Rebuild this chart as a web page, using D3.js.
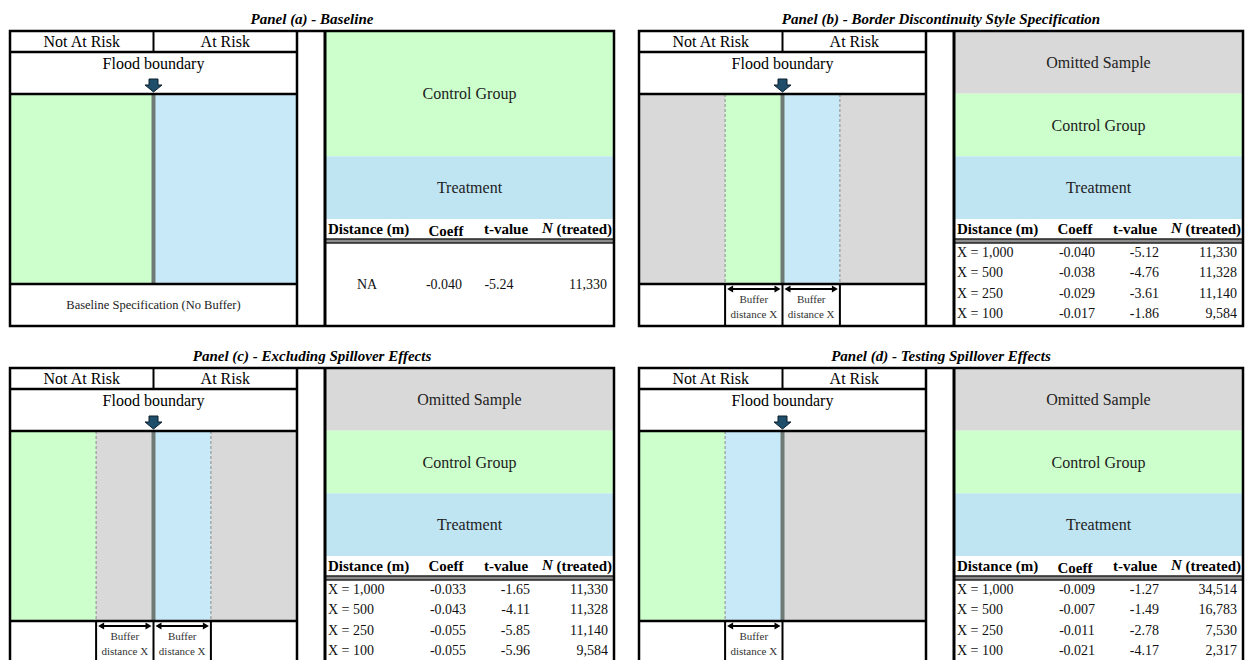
<!DOCTYPE html>
<html>
<head>
<meta charset="utf-8">
<script src="https://cdn.jsdelivr.net/npm/d3@7"></script>
<style>
  html, body { margin: 0; padding: 0; background: #fff; }
  svg { display: block; }
  text { font-family: "Palatino Linotype", "Book Antiqua", Palatino, "Liberation Serif", serif; }
</style>
</head>
<body>
<svg id="chart" width="1247" height="660"></svg>
<script>
// ---- Labels ----
const panelTitles = [
  "Panel (a) - Baseline",
  "Panel (b) - Border Discontinuity Style Specification",
  "Panel (c) - Excluding Spillover Effects",
  "Panel (d) - Testing Spillover Effects"
];
const sideLabels = ["Not At Risk", "At Risk"];
const groupLabels = { omit: "Omitted Sample", control: "Control Group", treat: "Treatment" };
const columnHeaders = ["Distance (m)", "Coeff", "t-value", "N (treated)"];
const bufferDistances = ["X = 1,000", "X = 500", "X = 250", "X = 100"];

// ---- Estimates ----
const baselineDistance = ["NA"];
const baselineCoeff = [-0.040];
const baselineT = [-5.24];
const baselineN = [11330];

const borderCoeff = [-0.040, -0.038, -0.029, -0.017];
const borderT = [-5.12, -4.76, -3.61, -1.86];
const borderN = [11330, 11328, 11140, 9584];

const excludeCoeff = [-0.033, -0.043, -0.055, -0.055];
const excludeT = [-1.65, -4.11, -5.85, -5.96];
const excludeN = [11330, 11328, 11140, 9584];

const spillCoeff = [-0.009, -0.007, -0.011, -0.021];
const spillT = [-1.27, -1.49, -2.78, -4.17];
const spillN = [34514, 16783, 7530, 2317];

// ---- Formatting (plain hyphen minus) ----
const loc = d3.formatLocale({ decimal: ".", thousands: ",", grouping: [3], currency: ["$", ""], minus: "-" });
const fmtCoeff = loc.format(".3f");
const fmtT = loc.format(".2f");
const fmtN = loc.format(",d");

function rowsOf(dist, coeff, t, n) {
  return dist.map((d, i) => ({ dist: d, coeff: coeff[i], t: t[i], n: n[i] }));
}

// Map strips: positions in buffer units around the flood boundary (0)
const panels = [
  {
    title: panelTitles[0], origin: [10, 31], single: true, coeffDy: 2,
    zones: [[-1, 0, "control"], [0, 1, "treat"]],
    buffers: [],
    groups: [["control", 0, 2], ["treat", 2, 3]],
    rows: rowsOf(baselineDistance, baselineCoeff, baselineT, baselineN),
    note: "Baseline Specification (No Buffer)"
  },
  {
    title: panelTitles[1], origin: [639, 31], single: false, coeffDy: 0,
    zones: [[-1, -0.4, "omit"], [-0.4, 0, "control"], [0, 0.4, "treat"], [0.4, 1, "omit"]],
    buffers: [[-0.4, 0], [0, 0.4]],
    groups: [["omit", 0, 1], ["control", 1, 2], ["treat", 2, 3]],
    rows: rowsOf(bufferDistances, borderCoeff, borderT, borderN)
  },
  {
    title: panelTitles[2], origin: [10, 368], single: false, coeffDy: 0,
    zones: [[-1, -0.4, "control"], [-0.4, 0, "omit"], [0, 0.4, "treat"], [0.4, 1, "omit"]],
    buffers: [[-0.4, 0], [0, 0.4]],
    groups: [["omit", 0, 1], ["control", 1, 2], ["treat", 2, 3]],
    rows: rowsOf(bufferDistances, excludeCoeff, excludeT, excludeN)
  },
  {
    title: panelTitles[3], origin: [639, 368], single: false, coeffDy: 2,
    zones: [[-1, -0.4, "control"], [-0.4, 0, "treat"], [0, 1, "omit"]],
    buffers: [[-0.4, 0]],
    groups: [["omit", 0, 1], ["control", 1, 2], ["treat", 2, 3]],
    rows: rowsOf(bufferDistances, spillCoeff, spillT, spillN)
  }
];

// ---- Styling ----
const mapFill = { control: "#ccffcc", treat: "#c8eaf8", omit: "#d9d9d9" };
const tableFill = { control: "#ccffcc", treat: "#bfe4f2", omit: "#d9d9d9" };
const ink = "#000";

// ---- Panel geometry ----
const W = 604, H = 295, leftW = 287, tableX = 315;
const rowTop = 21, rowFlood = 63, rowMapEnd = 253;

const x = d3.scaleLinear().domain([-1, 1]).range([0, leftW]);
const groupY = d3.scaleLinear().domain([0, 3]).range([0, 188]);

const svg = d3.select("#chart");

panels.forEach(p => {
  const g = svg.append("g").attr("transform", `translate(${p.origin[0]},${p.origin[1]})`);

  // Title
  g.append("text")
    .attr("x", W / 2).attr("y", -12).attr("dy", "0.35em")
    .attr("text-anchor", "middle")
    .attr("font-size", 15).attr("font-weight", "bold").attr("font-style", "italic")
    .text(p.title);

  // Map strips
  g.selectAll("rect.zone").data(p.zones).join("rect")
    .attr("class", "zone")
    .attr("x", d => x(d[0])).attr("width", d => x(d[1]) - x(d[0]))
    .attr("y", rowFlood).attr("height", rowMapEnd - rowFlood)
    .attr("fill", d => mapFill[d[2]]);

  // Buffer edges inside the map
  const edges = [];
  p.buffers.forEach(b => b.forEach(v => { if (v !== 0 && !edges.includes(v)) edges.push(v); }));
  g.selectAll("line.edge").data(edges).join("line")
    .attr("class", "edge")
    .attr("x1", d => x(d)).attr("x2", d => x(d))
    .attr("y1", rowFlood).attr("y2", rowMapEnd)
    .attr("stroke", "#8a8a8a").attr("stroke-width", 1).attr("stroke-dasharray", "3,2");

  // Flood boundary line
  g.append("rect")
    .attr("x", x(0) - 2).attr("width", 4)
    .attr("y", rowFlood).attr("height", rowMapEnd - rowFlood)
    .attr("fill", "#6f7a77");

  // Table group fills
  g.selectAll("rect.grp").data(p.groups).join("rect")
    .attr("class", "grp")
    .attr("x", tableX).attr("width", W - tableX)
    .attr("y", d => groupY(d[1])).attr("height", d => groupY(d[2]) - groupY(d[1]))
    .attr("fill", d => tableFill[d[0]]);

  g.selectAll("text.grp").data(p.groups).join("text")
    .attr("class", "grp")
    .attr("x", (tableX + W) / 2)
    .attr("y", d => (groupY(d[1]) + groupY(d[2])) / 2).attr("dy", "0.35em")
    .attr("text-anchor", "middle").attr("font-size", 16).attr("fill", "#222")
    .text(d => groupLabels[d[0]]);

  // Header double rule
  g.append("rect").attr("x", tableX).attr("width", W - tableX)
    .attr("y", 208).attr("height", 4).attr("fill", "#8c8c8c");
  [208, 212].forEach(yy => g.append("line")
    .attr("x1", tableX).attr("x2", W).attr("y1", yy).attr("y2", yy)
    .attr("stroke", "#222").attr("stroke-width", 1.3));

  // Column headers
  const hy = 198;
  const hdr = g.append("g").attr("font-size", 15).attr("font-weight", "bold");
  hdr.append("text").attr("x", tableX + 3).attr("y", hy).attr("dy", "0.35em").text(columnHeaders[0]);
  hdr.append("text").attr("x", tableX + 121).attr("y", hy + p.coeffDy).attr("dy", "0.35em")
    .attr("text-anchor", "middle").text(columnHeaders[1]);
  hdr.append("text").attr("x", tableX + 181).attr("y", hy).attr("dy", "0.35em")
    .attr("text-anchor", "middle").text(columnHeaders[2]);
  const nh = hdr.append("text").attr("x", tableX + 287).attr("y", hy)
    .attr("text-anchor", "end");
  nh.append("tspan").attr("font-style", "italic").attr("dy", "0.25em").text(columnHeaders[3].slice(0, 1));
  nh.append("tspan").attr("dy", "0.1em").text(columnHeaders[3].slice(1));

  // Data rows
  const rowY = d3.scaleBand().domain(p.rows.map(r => r.dist))
    .range(p.single ? [212, 295] : [211, 292]);
  const col = p.single
    ? { dist: [tableX + 42, "middle"], coeff: [tableX + 119, "middle"], t: [tableX + 174, "middle"], n: [tableX + 282, "end"] }
    : { dist: [tableX + 3, "start"], coeff: [tableX + 123, "middle"], t: [tableX + 205, "end"], n: [tableX + 283, "end"] };
  const rowG = g.selectAll("g.row").data(p.rows).join("g")
    .attr("class", "row")
    .attr("transform", d => `translate(0,${rowY(d.dist) + rowY.bandwidth() / 2})`)
    .attr("font-size", 14).attr("fill", "#111");
  rowG.append("text").attr("x", col.dist[0]).attr("text-anchor", col.dist[1]).attr("dy", "0.35em").text(d => d.dist);
  rowG.append("text").attr("x", col.coeff[0]).attr("text-anchor", col.coeff[1]).attr("dy", "0.35em").text(d => fmtCoeff(d.coeff));
  rowG.append("text").attr("x", col.t[0]).attr("text-anchor", col.t[1]).attr("dy", "0.35em").text(d => fmtT(d.t));
  rowG.append("text").attr("x", col.n[0]).attr("text-anchor", col.n[1]).attr("dy", "0.35em").text(d => fmtN(d.n));

  // Risk header row
  const mid = x(0);
  g.append("text").attr("x", mid / 2).attr("y", rowTop / 2).attr("dy", "0.35em")
    .attr("text-anchor", "middle").attr("font-size", 16).text(sideLabels[0]);
  g.append("text").attr("x", (mid + leftW) / 2).attr("y", rowTop / 2).attr("dy", "0.35em")
    .attr("text-anchor", "middle").attr("font-size", 16).text(sideLabels[1]);

  g.append("text").attr("x", leftW / 2).attr("y", 32).attr("dy", "0.35em")
    .attr("text-anchor", "middle").attr("font-size", 16).text("Flood boundary");

  // Arrow pointing to the boundary
  const ax = mid, shaftW = 4.5, headW = 8.5;
  g.append("path")
    .attr("d", `M${ax - shaftW},48 L${ax + shaftW},48 L${ax + shaftW},54 L${ax + headW},54 L${ax},61 L${ax - headW},54 L${ax - shaftW},54 Z`)
    .attr("fill", "#1f4e6b").attr("stroke", "#0b1f2c").attr("stroke-width", 1);

  // Bottom row: buffer dividers, arrows and captions
  const divs = [];
  p.buffers.forEach(b => b.forEach(v => { if (!divs.includes(v)) divs.push(v); }));
  g.selectAll("line.div").data(divs).join("line")
    .attr("class", "div")
    .attr("x1", d => x(d)).attr("x2", d => x(d))
    .attr("y1", rowMapEnd).attr("y2", H)
    .attr("stroke", ink).attr("stroke-width", 2);

  p.buffers.forEach(b => {
    const x0 = x(b[0]) + 2, x1 = x(b[1]) - 2, ay = 258;
    g.append("line").attr("x1", x0 + 4).attr("x2", x1 - 4).attr("y1", ay).attr("y2", ay)
      .attr("stroke", ink).attr("stroke-width", 2);
    g.append("path").attr("d", `M${x0},${ay} L${x0 + 6},${ay - 3.5} L${x0 + 6},${ay + 3.5} Z`).attr("fill", ink);
    g.append("path").attr("d", `M${x1},${ay} L${x1 - 6},${ay - 3.5} L${x1 - 6},${ay + 3.5} Z`).attr("fill", ink);
    const cx = (x(b[0]) + x(b[1])) / 2;
    g.append("text").attr("x", cx).attr("y", 268).attr("dy", "0.35em")
      .attr("text-anchor", "middle").attr("font-size", 11).attr("fill", "#333").text("Buffer");
    g.append("text").attr("x", cx).attr("y", 283).attr("dy", "0.35em")
      .attr("text-anchor", "middle").attr("font-size", 11).attr("fill", "#333").text("distance X");
  });

  if (p.note) {
    g.append("text").attr("x", leftW / 2).attr("y", (rowMapEnd + H) / 2).attr("dy", "0.35em")
      .attr("text-anchor", "middle").attr("font-size", 12.5).attr("fill", "#222").text(p.note);
  }

  // Frame lines
  const frame = g.append("g").attr("stroke", ink).attr("fill", "none");
  frame.append("rect").attr("x", 0).attr("y", 0).attr("width", W).attr("height", H).attr("stroke-width", 2.5);
  [rowTop, rowFlood, rowMapEnd].forEach(yy =>
    frame.append("line").attr("x1", 0).attr("x2", leftW).attr("y1", yy).attr("y2", yy).attr("stroke-width", 2.5));
  frame.append("line").attr("x1", mid).attr("x2", mid).attr("y1", 0).attr("y2", rowTop).attr("stroke-width", 2);
  frame.append("line").attr("x1", leftW).attr("x2", leftW).attr("y1", 0).attr("y2", H).attr("stroke-width", 2.5);
  frame.append("line").attr("x1", tableX).attr("x2", tableX).attr("y1", 0).attr("y2", H).attr("stroke-width", 3);
});
</script>
</body>
</html>
